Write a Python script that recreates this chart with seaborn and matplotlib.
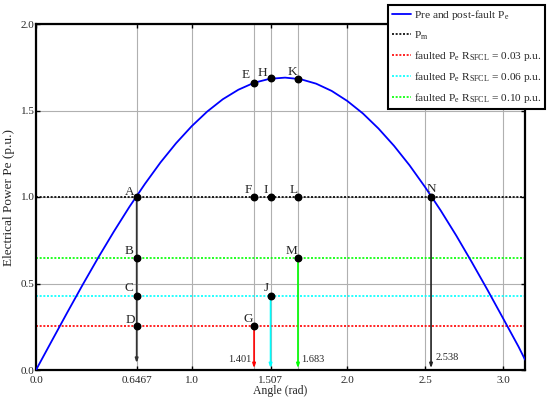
import matplotlib
matplotlib.use("Agg")
import matplotlib.pyplot as plt
import seaborn as sns
import pandas as pd

# ---------------- data ----------------
angle_curve = [0.0, 0.1, 0.2, 0.3, 0.4, 0.5, 0.6, 0.7, 0.8, 0.9, 1.0, 1.1, 1.2, 1.3,
               1.4, 1.5, 1.6, 1.7, 1.8, 1.9, 2.0, 2.1, 2.2, 2.3, 2.4, 2.5, 2.6, 2.7,
               2.8, 2.9, 3.0, 3.1, 3.1416]
pe_curve = [0.0, 0.166, 0.331, 0.493, 0.650, 0.800, 0.943, 1.076, 1.200, 1.311, 1.409,
            1.494, 1.565, 1.620, 1.660, 1.683, 1.690, 1.681, 1.655, 1.613, 1.555, 1.483,
            1.396, 1.296, 1.183, 1.057, 0.922, 0.777, 0.623, 0.464, 0.300, 0.135, 0.060]

pm_level = 1.0
fault_levels = [0.256, 0.430, 0.648]
fault_colors = ["red", "cyan", "lime"]
fault_labels = ["faulted P$\\mathrm{_e}$ R$\\mathrm{_{SFCL}}$ = 0.03 p.u.",
                "faulted P$\\mathrm{_e}$ R$\\mathrm{_{SFCL}}$ = 0.06 p.u.",
                "faulted P$\\mathrm{_e}$ R$\\mathrm{_{SFCL}}$ = 0.10 p.u."]

point_names = ["A", "B", "C", "D", "E", "F", "G", "H", "I", "J", "K", "L", "M", "N"]
point_x = [0.6467, 0.6467, 0.6467, 0.6467, 1.401, 1.401, 1.401, 1.507, 1.507, 1.507,
           1.683, 1.683, 1.683, 2.538]
point_y = [1.0, 0.648, 0.430, 0.256, 1.660, 1.0, 0.256, 1.685, 1.0, 0.430,
           1.683, 1.0, 0.648, 1.0]

# vertical drop arrows: x, start y, end y, colour
drop_x = [0.6467, 1.401, 1.507, 1.683, 2.538]
drop_top = [1.0, 0.256, 0.430, 0.648, 1.0]
drop_end = [0.04, 0.01, 0.01, 0.01, 0.01]
drop_colors = ["#333333", "red", "cyan", "lime", "#222222"]

drop_texts = ["1.401", "1.683", "2.538"]
drop_text_x = [1.385, 1.705, 2.565]
drop_text_y = [0.058, 0.058, 0.075]
drop_text_ha = ["right", "left", "left"]

x_ticks = [0.0, 0.6467, 1.0, 1.507, 2.0, 2.5, 3.0]
x_tick_labels = ["0.0", "0.6467", "1.0", "1.507", "2.0", "2.5", "3.0"]
x_minor = [1.401, 1.683]
y_ticks = [0.0, 0.5, 1.0, 1.5, 2.0]

# ---------------- style ----------------
sns.set_theme(style="ticks")
plt.rcParams["font.family"] = ["Liberation Serif", "DejaVu Serif"]
plt.rcParams["mathtext.fontset"] = "custom"
plt.rcParams["mathtext.rm"] = "Liberation Serif"
plt.rcParams["mathtext.it"] = "Liberation Serif:italic"

fig = plt.figure(figsize=(5.5, 3.97), dpi=100)
ax = fig.add_axes([36 / 550, 1 - 370 / 397, (525 - 36) / 550, (370 - 24) / 397])

df = pd.DataFrame({"angle": angle_curve, "pe": pe_curve})
sns.lineplot(data=df, x="angle", y="pe", ax=ax, color="blue", lw=1.3,
             zorder=3, legend=False)
h_curve = ax.lines[-1]

h_pm = ax.axhline(pm_level, color="black", ls=(0, (1.2, 1.0)), lw=1.2, zorder=2)
h_faults = []
for lvl, c in zip(fault_levels, fault_colors):
    h = ax.axhline(lvl, color=c, ls=(0, (1.2, 1.0)), lw=1.2, zorder=2)
    h_faults.append(h)

for x, y0, y1, c in zip(drop_x, drop_top, drop_end, drop_colors):
    ax.annotate("", xy=(x, y1), xytext=(x, y0),
                arrowprops=dict(arrowstyle="-|>,head_length=0.35,head_width=0.12",
                                color=c, lw=1.2, shrinkA=0, shrinkB=0,
                                mutation_scale=7),
                zorder=2)

ax.scatter(point_x, point_y, s=22, color="black", zorder=5)
# label offsets in pixels (dx, baseline dy)
offsets_px = {"A": (-6.7, 1.6), "B": (-7.7, 3.4), "C": (-7.3, 5.0), "D": (-6.7, 2.6),
              "E": (-8.3, 5.3), "F": (-5.7, 4.3), "G": (-5.7, 3.3), "H": (-8.3, 2.7),
              "I": (-4.7, 4.3), "J": (-4.7, 5.0), "K": (-5.3, 4.3), "L": (-4.3, 4.3),
              "M": (-6.0, 4.0), "N": (0.3, 5.0)}
for n, x, y in zip(point_names, point_x, point_y):
    dx, dy = offsets_px[n]
    ax.annotate(n, (x, y), xytext=(dx * 0.72, dy * 0.72), textcoords="offset points",
                ha="center", va="baseline", fontsize=9.5, zorder=6)

for t, x, y, ha in zip(drop_texts, drop_text_x, drop_text_y, drop_text_ha):
    ax.text(x, y, t, ha=ha, va="center", fontsize=7.5)

ax.set_xlim(0, 3.1416)
ax.set_ylim(0, 2.0)
ax.set_xticks(x_ticks)
ax.set_xticklabels(x_tick_labels)
ax.set_xticks(x_minor, minor=True)
ax.set_yticks(y_ticks)
ax.set_yticklabels([f"{v:.1f}" for v in y_ticks])
ax.grid(True, which="both", color="#b0b0b0", lw=0.8, zorder=0)
ax.set_axisbelow(True)
ax.tick_params(which="major", direction="in", length=3, width=1, top=True, right=True,
               labelsize=8, color="black")
ax.tick_params(axis="x", which="major", pad=4)
ax.tick_params(axis="y", which="major", pad=1.0)
ax.tick_params(which="minor", length=0)
for s in ax.spines.values():
    s.set_linewidth(1.6)
    s.set_color("black")

ax.set_xlabel("Angle (rad)", fontsize=8.5, labelpad=0)
ax.set_ylabel("Electrical Power Pe (p.u.)", fontsize=9.5, labelpad=4)

leg = fig.legend(handles=[h_curve, h_pm] + h_faults,
                 labels=["Pre and post-fault P$\\mathrm{_e}$", "P$\\mathrm{_m}$"] + fault_labels,
                 loc="upper right", bbox_to_anchor=(545 / 550, 1 - 5 / 397),
                 bbox_transform=fig.transFigure, fontsize=8.2, frameon=True,
                 fancybox=False, framealpha=1, edgecolor="black",
                 handlelength=1.65, handletextpad=0.3, labelspacing=0.62,
                 borderpad=0.3, borderaxespad=0)
leg.get_frame().set_linewidth(1.5)
leg.set_zorder(10)

fig.savefig("out.png", dpi=100)
